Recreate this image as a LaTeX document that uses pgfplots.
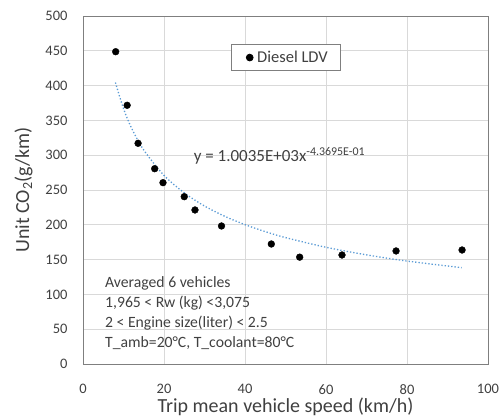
\documentclass[border=0pt]{standalone}
\usepackage{fontspec}
\setmainfont{Carlito}
\usepackage{pgfplots}
\pgfplotsset{compat=1.18}
\definecolor{txt}{HTML}{404040}
\definecolor{gridc}{HTML}{D9D9D9}
\definecolor{trend}{HTML}{5B9BD5}
\definecolor{frame}{HTML}{7F7F7F}
\begin{document}
\begin{tikzpicture}
\begin{axis}[
 scale only axis, width=405pt, height=348pt,
 xmin=0, xmax=100, ymin=0, ymax=500,
 xtick={0,20,...,100}, ytick={0,50,...,500},
 grid=major, major grid style={draw=gridc, line width=0.8pt},
 axis line style={draw=frame, line width=0.8pt},
 tick style={draw=none},
 ticklabel style={font=\fontsize{14.5}{16}\selectfont, text=txt},
 /pgf/number format/assume math mode=true,
 xticklabel style={yshift=-17pt},
 yticklabel style={xshift=-12pt},
 xlabel={Trip mean vehicle speed (km/h)},
 ylabel={Unit CO\textsubscript{2}(g/km)},
 xlabel style={font=\fontsize{20}{22}\selectfont, text=txt, at={(axis description cs:0.5,-0.1408)}, anchor=base},
 ylabel style={font=\fontsize{20}{22}\selectfont, text=txt, at={(axis description cs:-0.1333,0.5)}, anchor=base},
 legend style={at={(axis cs:36.5,459.5)}, anchor=north west, draw=frame, line width=0.8pt,
   font=\fontsize{16.5}{18}\selectfont, text=txt, inner xsep=11pt, inner ysep=4.5pt,
   nodes={inner sep=2pt}},
 legend image code/.code={\path[draw=none] (0pt,0pt) -- (13pt,0pt);
   \begin{pgfinterruptboundingbox}\fill[black] (7.5pt,0pt) circle (3.4pt);\end{pgfinterruptboundingbox}},
 legend cell align=left,
]
\addplot[only marks, mark=*, mark size=3.4pt, black] coordinates {
 (8.07,448.7) (10.9,371.7) (13.6,317.1) (17.7,280.6) (19.75,260.5)
 (25.0,240.4) (27.65,221.3) (34.2,198.3) (46.5,172.4) (53.5,153.5)
 (63.95,156.6) (77.3,162.4) (93.6,163.8)
};
\addlegendentry{Diesel LDV}
\addplot[trend, dotted, line width=1.3pt, smooth, forget plot] coordinates {
 (8,404.5) (10,366.9) (12,338.8) (15,307.4) (20,271.0) (25,245.9) (30,227.0)
 (35,212.2) (40,200.2) (45,190.2) (50,181.6) (60,167.7) (70,156.8) (80,147.9) (93.5,138.4)
};
\node[anchor=west, font=\fontsize{17}{19}\selectfont, text=txt] at (axis cs:26.5,299)
 {y = 1.0035E+03x\textsuperscript{-4.3695E-01}};
\node[anchor=west, align=left, font=\fontsize{15.7}{20}\selectfont, text=txt] at (axis cs:4.6,73)
 {Averaged 6 vehicles\\1,965 < Rw (kg) <3,075\\2 < Engine size(liter) < 2.5\\T\_amb=20°C, T\_coolant=80°C};
\end{axis}
\path ([shift={(-83pt,-55pt)}]current axis.south west) rectangle ([shift={(16pt,16pt)}]current axis.north east);
\end{tikzpicture}
\end{document}
